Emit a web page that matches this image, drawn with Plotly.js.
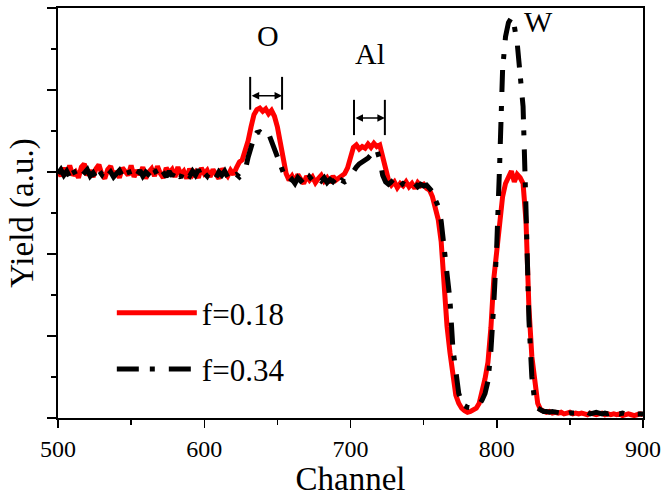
<!DOCTYPE html>
<html>
<head>
<meta charset="utf-8">
<script src="https://cdn.plot.ly/plotly-3.0.1.min.js"></script>
<style>html,body{margin:0;padding:0;background:#fff;}#chart{width:668px;height:497px;}</style>
</head>
<body>
<div id="chart"></div>
<script>
var channels = [
500,502,504,506,508,510,512,514,516,518,
520,522,524,526,528,530,532,534,536,538,
540,542,544,546,548,550,552,554,556,558,
560,562,564,566,568,570,572,574,576,578,
580,582,584,586,588,590,592,594,596,598,
600,602,604,606,608,610,612,614,616,618,
620,622,624,626,628,630,632,634,636,638,
640,642,644,646,648,650,652,654,656,658,
660,662,664,666,668,670,672,674,676,678,
680,682,684,686,688,690,692,694,696,698,
700,702,704,706,708,710,712,714,716,718,
720,722,724,726,728,730,732,734,736,738,
740,742,744,746,748,750,752,754,756,758,
760,762,764,766,768,770,772,774,776,778,
780,782,784,786,788,790,792,794,796,798,
800,802,804,806,808,810,812,814,816,818,
820,822,824,826,828,830,832,834,836,838,
840,842,844,846,848,850,852,854,856,858,
860,862,864,866,868,870,872,874,876,878,
880,882,884,886,888,890,892,894,896,898,
900];

var yieldF018 = [
3.02,2.95,3.05,2.97,3.08,2.96,3.00,2.93,3.06,3.10,
2.96,3.02,2.94,3.04,3.09,2.97,2.92,3.03,3.07,2.95,
3.01,2.93,3.05,3.00,2.96,3.08,2.94,3.02,2.97,3.06,
2.92,3.00,3.04,2.95,3.07,2.98,2.93,3.05,2.99,3.03,
2.94,3.06,2.97,3.01,2.92,3.04,2.96,3.00,2.93,3.05,
2.98,3.02,2.94,3.03,2.97,2.92,3.04,2.99,2.95,3.02,
2.97,3.05,3.12,3.15,3.25,3.38,3.55,3.70,3.76,3.78,
3.74,3.77,3.71,3.75,3.68,3.55,3.36,3.15,2.98,2.90,
2.95,2.88,2.97,2.91,2.86,2.95,2.90,2.94,2.87,2.92,
2.96,2.89,2.93,2.87,2.95,2.90,2.93,2.96,2.98,3.05,
3.18,3.30,3.33,3.28,3.31,3.29,3.34,3.30,3.35,3.31,
3.33,3.20,3.02,2.90,2.84,2.88,2.81,2.86,2.83,2.88,
2.82,2.86,2.80,2.87,2.83,2.85,2.80,2.78,2.70,2.55,
2.42,2.15,1.60,1.12,0.80,0.48,0.28,0.18,0.12,0.09,
0.07,0.08,0.10,0.12,0.18,0.32,0.48,0.68,1.10,1.70,
2.05,2.45,2.70,2.86,2.94,3.01,2.88,2.97,2.93,2.86,
2.40,1.35,0.75,0.42,0.18,0.10,0.08,0.07,0.08,0.06,
0.07,0.06,0.07,0.05,0.06,0.07,0.05,0.06,0.05,0.06,
0.05,0.04,0.06,0.05,0.04,0.05,0.06,0.04,0.05,0.04,
0.05,0.04,0.05,0.03,0.04,0.05,0.04,0.03,0.04,0.05,
0.04];

var yieldF034 = [
2.98,3.03,2.96,3.01,2.94,3.04,2.97,3.02,2.95,3.00,
3.03,2.95,2.99,2.93,3.02,2.97,3.04,2.96,3.00,2.94,
2.98,3.02,2.95,2.97,3.03,2.93,2.99,2.96,3.02,2.95,
3.00,2.97,2.93,3.03,2.96,3.05,2.98,2.94,3.01,2.95,
3.02,2.97,2.93,3.04,2.98,2.95,3.01,2.96,3.03,2.94,
2.99,2.95,3.02,2.97,2.93,3.00,2.96,3.01,2.94,2.98,
2.95,2.97,2.94,2.98,3.02,3.18,3.30,3.42,3.48,3.49,
3.46,3.50,3.47,3.37,3.29,3.18,3.06,2.98,2.90,2.87,
2.91,2.86,2.93,2.89,2.92,2.87,2.94,2.90,2.86,2.92,
2.89,2.93,2.87,2.91,2.88,2.92,2.86,2.90,2.88,2.90,
2.96,3.02,3.06,3.10,3.12,3.15,3.17,3.21,3.24,3.27,
3.15,2.96,2.88,2.85,2.88,2.84,2.87,2.83,2.86,2.84,
2.87,2.83,2.86,2.82,2.85,2.83,2.84,2.80,2.76,2.66,
2.58,2.40,2.08,1.76,1.44,0.85,0.50,0.30,0.20,0.15,
0.13,0.12,0.12,0.13,0.16,0.22,0.30,0.45,0.82,1.40,
2.10,3.10,4.25,4.65,4.82,4.88,4.78,4.57,4.20,3.80,
2.55,1.20,0.50,0.20,0.12,0.10,0.08,0.08,0.07,0.08,
0.07,0.07,0.06,0.07,0.05,0.06,0.06,0.05,0.06,0.05,
0.06,0.07,0.05,0.06,0.07,0.06,0.05,0.06,0.05,0.06,
0.05,0.06,0.05,0.06,0.05,0.04,0.05,0.06,0.05,0.05,
0.05];

var seriesNames = ['f=0.18', 'f=0.34'];
var peakLabels = ['O', 'Al', 'W'];
var xTickVals = [500, 600, 700, 800, 900];

var FONT = '"Liberation Serif", "Times New Roman", serif';

var traces = [
  {x: channels, y: yieldF018, name: seriesNames[0], type: 'scatter', mode: 'lines',
   line: {color: '#ff0000', width: 5}, legendgroup: 'a'},
  {x: channels, y: yieldF034, name: seriesNames[1], type: 'scatter', mode: 'lines',
   line: {color: '#000000', width: 5, dash: '22px,11px,5px,14px'}, legendgroup: 'b'}
];

function vbar(x, y0, y1) {
  return {type: 'line', xref: 'x', yref: 'y', x0: x, x1: x, y0: y0, y1: y1,
          line: {color: '#000', width: 2}};
}
function darrow(x0, x1, y) {
  return {x: x1, y: y, ax: x0, ay: y, xref: 'x', yref: 'y', axref: 'x', ayref: 'y',
          text: '', showarrow: true, arrowhead: 2, arrowside: 'end+start',
          arrowsize: 1, arrowwidth: 1.5, arrowcolor: '#000', standoff: 0, startstandoff: 0};
}
function label(t, x, y) {
  return {x: x, y: y, xref: 'x', yref: 'y', text: t, showarrow: false,
          font: {family: FONT, size: 30, color: '#000'}};
}

var layout = {
  width: 668, height: 497,
  margin: {l: 58, r: 25, t: 8, b: 79, pad: 0},
  paper_bgcolor: '#fff', plot_bgcolor: '#fff',
  font: {family: FONT, color: '#000'},
  showlegend: true,
  legend: {x: 0.092, y: 0.322, xanchor: 'left', yanchor: 'top',
           bgcolor: 'rgba(0,0,0,0)', borderwidth: 0,
           font: {family: FONT, size: 31, color: '#000'},
           traceorder: 'grouped', tracegroupgap: 13, itemwidth: 80},
  xaxis: {
    range: [500, 900], tickvals: xTickVals, ticks: 'outside', ticklen: 8, tickwidth: 1.5,
    tickcolor: '#000', showline: true, linecolor: '#000', linewidth: 2, mirror: true,
    showgrid: false, zeroline: false,
    tickfont: {family: FONT, size: 24, color: '#000'},
    minor: {dtick: 50, ticks: 'outside', ticklen: 5, tickwidth: 1.5, tickcolor: '#000', showgrid: false},
    title: {text: 'Channel', font: {family: FONT, size: 33, color: '#000'}, standoff: 2}
  },
  yaxis: {
    range: [0, 5], dtick: 1, tick0: 0, ticks: 'outside', ticklen: 9, tickwidth: 1.5,
    tickcolor: '#000', showline: true, linecolor: '#000', linewidth: 2, mirror: true,
    showgrid: false, zeroline: false, showticklabels: false,
    minor: {dtick: 0.5, ticks: 'outside', ticklen: 5, tickwidth: 1.5, tickcolor: '#000', showgrid: false},
    title: {text: 'Yield (a.u.)', font: {family: FONT, size: 33, color: '#000'}, standoff: 3}
  },
  shapes: [
    vbar(631.4, 3.76, 4.16), vbar(653.2, 3.76, 4.16),
    vbar(702.4, 3.45, 3.88), vbar(723.5, 3.45, 3.88)
  ],
  annotations: [
    darrow(631.4, 653.2, 3.93),
    darrow(702.4, 723.5, 3.66),
    label(peakLabels[0], 643.7, 4.66),
    label(peakLabels[1], 713.3, 4.45),
    label(peakLabels[2], 828.7, 4.83)
  ]
};

Plotly.newPlot('chart', traces, layout, {staticPlot: true, displayModeBar: false});
</script>
</body>
</html>
